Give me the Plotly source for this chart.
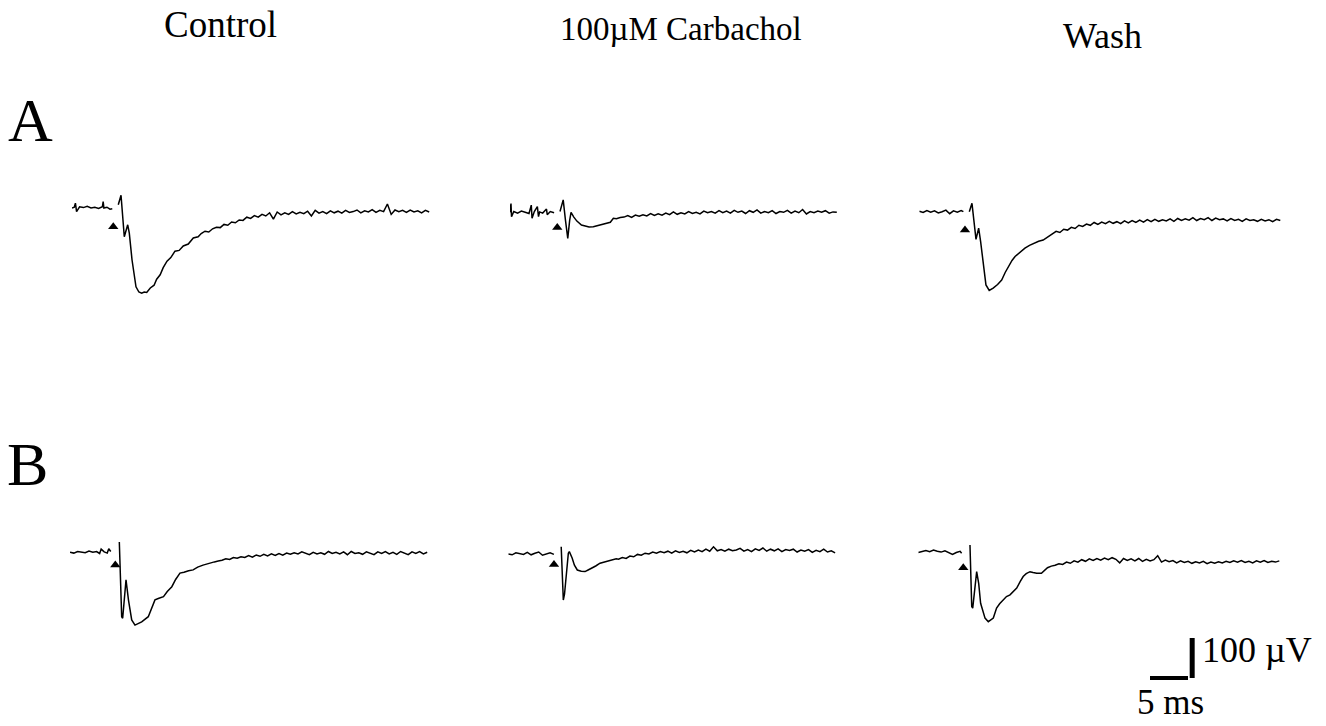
import plotly.graph_objects as go

# ---------------- data (time in ms, potential in µV) ----------------
column_titles = ["Control", "100µM Carbachol", "Wash"]
row_labels = ["A", "B"]
scale_ms = 5
scale_uv = 100
scale_labels = ["100 µV", "5 ms"]

# stimulus markers (time, level) for: Control A, Carbachol A, Wash A, Control B, Carbachol B, Wash B
stim_t = [5.43, 6.22, 6.01, 5.96, 6.01, 5.92]
stim_v = [-47, -38, -46, -32, -26, -40]

# --- Row A, Control ---
ctrl_a_pre_t = [0, 0.3, 0.45, 0.6, 1.0, 1.5, 2.0, 2.5, 3.0, 3.5, 4.0, 4.1, 4.2, 4.6, 5.0, 5.3]
ctrl_a_pre_v = [0, 2, 12, -9, 3, 1, 4, 0, 2, -1, 3, 16, 0, 2, -3, -2]
ctrl_a_t = [6.09, 6.45, 6.88, 7.1, 7.33, 7.54, 7.9, 8.42, 8.8, 9.17, 9.5, 9.83, 10.3, 10.8, 11.14,
            11.6, 12.0, 12.5, 13.0, 13.55, 14.1, 14.64, 15.3, 15.96, 16.6, 17.0,
            17.5, 18.0, 18.5, 19.0, 19.5, 20.0, 20.5, 21.0, 21.5, 22.0, 22.5, 23.0, 23.5, 24.0,
            24.5, 25.0, 25.5, 26.0, 26.5, 27.0, 27.5, 28.0, 28.5, 29.0, 29.5, 30.0, 30.5, 31.0,
            31.5, 32.0, 32.5, 33.0, 33.5, 34.0, 34.5, 35.0, 35.5, 36.0, 36.5, 37.0, 37.5, 38.0,
            38.5, 39.0, 39.5, 40.0, 40.5, 41.0, 41.5, 42.0, 42.5, 43.0, 43.5, 44.0, 44.5, 45.0,
            45.5, 46.0, 46.5, 47.0]
ctrl_a_v = [8, 32, -72, -55, -42, -63, -130, -197, -210, -213, -210, -211, -200, -193, -178,
            -167, -149, -133, -124, -108, -106, -95, -90, -75, -72, -64,
            -58, -60, -52, -48, -49, -41, -43, -35, -37, -30, -31, -23, -26, -19,
            -23, -16, -20, -12, -28, -10, -17, -12, -16, -9, -15, -11, -14, -8,
            -20, -6, -13, -9, -14, -7, -12, -8, -13, -6, -11, -9, -5, -12,
            -7, -10, -4, -11, -6, -9, 10, -16, -5, -9, -6, -11, -5, -10,
            -7, -12, -6, -10]

# --- Row A, Carbachol ---
carb_a_pre_t = [0, 0.13, 0.2, 0.5, 1.0, 1.5, 2.0, 2.5, 2.8, 2.9, 3.2, 3.6, 3.75, 3.9, 4.3, 4.8, 4.9, 5.3, 5.8]
carb_a_pre_v = [0, 22, -11, 2, -2, 3, 0, -3, 18, -15, 2, 14, -11, 1, -2, 8, -6, 2, -1]
carb_a_t = [6.58, 6.8, 7.0, 7.3, 7.6, 7.85, 8.03, 8.4, 8.8, 9.4, 9.9, 10.4, 10.96, 11.5, 12.0,
            12.7, 13.2, 13.6, 14.0, 14.5,
            15.0, 15.5, 16.0, 16.5, 17.0, 17.5, 18.0, 18.5, 19.0, 19.5, 20.0, 20.5, 21.0, 21.5,
            22.0, 22.5, 23.0, 23.5, 24.0, 24.5, 25.0, 25.5, 26.0, 26.5, 27.0, 27.5, 28.0, 28.5,
            29.0, 29.5, 30.0, 30.5, 31.0, 31.5, 32.0, 32.5, 33.0, 33.5, 34.0, 34.5, 35.0, 35.5,
            36.0, 36.5, 37.0, 37.5, 38.0, 38.5, 39.0, 39.5, 40.0, 40.5, 41.0, 41.5, 42.0, 42.5, 43.0]
carb_a_v = [2, 20, 31, -20, -65, -20, 0, -12, -22, -32, -35, -37, -36, -33, -31,
            -28, -25, -15, -16, -13,
            -12, -8, -13, -7, -10, -6, -9, -3, -8, -4, -7, -2, -6, 1,
            -5, -1, -4, 2, -3, 0, -4, 3, -1, 2, -2, 4, -1, 3,
            -2, 5, 0, 3, -3, 4, 0, 6, -2, 2, -1, 4, -3, 2,
            0, 5, -2, 3, -1, 7, -4, 2, -1, 3, 0, 4, -2, 1, 0]

# --- Row A, Wash ---
wash_a_pre_t = [0, 0.5, 1.0, 1.5, 2.0, 2.5, 3.0, 3.5, 4.0, 4.5, 5.0, 5.5, 5.8]
wash_a_pre_v = [1, -2, 3, -1, 2, -3, 0, 4, -5, 2, -1, 3, 0]
wash_a_t = [6.58, 6.93, 7.46, 7.81, 8.07, 8.4, 8.77, 9.2, 9.72, 10.3, 10.84, 11.3, 11.7, 12.2,
            12.6, 13.3, 13.9, 14.5, 15.0, 15.7, 16.3, 17.0,
            17.5, 18.0, 18.5, 19.0, 19.5, 20.0, 20.5, 21.0, 21.5, 22.0, 22.5, 23.0, 23.5, 24.0,
            24.5, 25.0, 25.5, 26.0, 26.5, 27.0, 27.5, 28.0, 28.5, 29.0, 29.5, 30.0, 30.5, 31.0,
            31.5, 32.0, 32.5, 33.0, 33.5, 34.0, 34.5, 35.0, 35.5, 36.0, 36.5, 37.0, 37.5, 38.0,
            38.5, 39.0, 39.5, 40.0, 40.5, 41.0, 41.5, 42.0, 42.5, 43.0, 43.5, 44.0, 44.5, 45.0,
            45.5, 46.0, 46.5, 47.0, 47.5]
wash_a_v = [0, 21, -69, -41, -75, -130, -183, -197, -191, -182, -171, -152, -137, -122,
            -112, -100, -91, -84, -79, -74, -71, -62,
            -55, -49, -52, -44, -46, -39, -42, -34, -37, -31, -34, -27, -32, -26,
            -30, -24, -29, -25, -30, -23, -28, -22, -27, -21, -26, -20, -25, -19,
            -24, -20, -23, -18, -24, -17, -22, -18, -21, -15, -22, -17, -20, -15,
            -22, -16, -20, -18, -23, -17, -22, -19, -24, -18, -22, -20, -24, -19,
            -23, -20, -25, -19, -22]

# --- Row B, Control ---
ctrl_b_pre_t = [0, 0.5, 1.0, 1.5, 2.0, 2.5, 3.0, 3.5, 3.9, 4.1, 4.5, 4.9, 5.1, 5.36]
ctrl_b_pre_v = [0, -2, 2, 1, -1, 3, 0, 2, -3, 8, 1, -2, 9, 2]
ctrl_b_t = [6.49, 6.8, 6.93, 7.15, 7.37, 7.7, 8.12, 8.55, 9.0, 9.43, 10.3, 10.7, 11.18, 11.7,
            12.3, 12.8, 13.4, 13.9, 14.47, 15.0, 15.6, 16.2, 16.8, 17.5,
            18.0, 18.5, 19.0, 19.5, 20.0, 20.5, 21.0, 21.5, 22.0, 22.5, 23.0, 23.5, 24.0, 24.5,
            25.0, 25.5, 26.0, 26.5, 27.0, 27.5, 28.0, 28.5, 29.0, 29.5, 30.0, 30.5, 31.0, 31.5,
            32.0, 32.5, 33.0, 33.5, 34.0, 34.5, 35.0, 35.5, 36.0, 36.5, 37.0, 37.5, 38.0, 38.5,
            39.0, 39.5, 40.0, 40.5, 41.0, 41.5, 42.0, 42.5, 43.0, 43.5, 44.0, 44.5, 45.0, 45.5,
            46.0, 46.5, 47.0]
ctrl_b_v = [26, -161, -165, -110, -69, -120, -169, -182, -178, -174, -161, -140, -119, -115,
            -111, -98, -86, -68, -52, -50, -46, -44, -37, -32,
            -29, -27, -24, -22, -20, -16, -18, -13, -15, -11, -13, -8, -12, -7,
            -10, -5, -9, -4, -8, -3, -7, -2, -5, -1, -4, 1, -3, -6,
            0, -4, -1, -5, 2, -3, 0, -4, 1, -6, 2, -3, -1, -5,
            1, -2, -6, 1, -3, 2, -4, 0, -5, 2, -2, -6, 1, -3,
            2, -4, 0]

# --- Row B, Carbachol ---
carb_b_pre_t = [0, 0.5, 1.0, 1.5, 2.0, 2.5, 3.0, 3.5, 4.0, 4.5, 5.0, 5.5, 6.0]
carb_b_pre_v = [0, -2, 3, 1, -1, 4, -2, 2, 5, -3, 1, 3, -1]
carb_b_t = [6.96, 7.24, 7.4, 7.65, 7.9, 8.03, 8.4, 8.7, 9.08, 9.6, 10.1, 10.5, 10.96, 11.5,
            12.07, 12.6, 13.2, 13.8, 14.2,
            14.5, 15.0, 15.5, 16.0, 16.5, 17.0, 17.5, 18.0, 18.5, 19.0, 19.5, 20.0, 20.5, 21.0,
            21.5, 22.0, 22.5, 23.0, 23.5, 24.0, 24.5, 25.0, 25.5, 26.0, 26.5, 27.0, 27.5, 28.0,
            28.5, 29.0, 29.5, 30.0, 30.5, 31.0, 31.5, 32.0, 32.5, 33.0, 33.5, 34.0, 34.5, 35.0,
            35.5, 36.0, 36.5, 37.0, 37.5, 38.0, 38.5, 39.0, 39.5, 40.0, 40.5, 41.0, 41.5, 42.0,
            42.5, 43.0]
carb_b_v = [18, -115, -100, -40, 2, 6, -10, -28, -40, -43, -44, -40, -36, -30,
            -23, -20, -17, -15, -12,
            -13, -9, -11, -5, -7, -1, -3, 2, 0, 5, 2, 6, 3, 7,
            2, 8, 4, 7, 3, 9, 5, 10, 6, 12, 7, 18, 8, 11,
            7, 12, 8, 10, 14, 7, 11, 6, 13, 9, 15, 7, 12, 8,
            13, 6, 11, 9, 12, 5, 10, 7, 11, 4, 9, 6, 12, 5,
            8, 3]

# --- Row B, Wash ---
wash_b_pre_t = [0, 0.5, 1.0, 1.5, 2.0, 2.5, 3.0, 3.5, 4.0, 4.5, 5.0, 5.5, 5.7]
wash_b_pre_v = [-2, 1, 3, 0, 4, 1, -1, 2, -3, -7, -2, 1, -4]
wash_b_t = [6.8, 7.03, 7.16, 7.4, 7.68, 7.95, 8.2, 8.78, 9.21, 9.87, 10.3, 10.7, 11.18, 11.6,
            12.07, 12.5, 12.95, 13.4, 13.8, 14.2, 14.7, 15.1, 15.58, 16.2, 16.6,
            17.0, 17.5, 18.0, 18.5, 19.0, 19.5, 20.0, 20.5, 21.0, 21.5, 22.0, 22.5, 23.0, 23.5,
            24.0, 24.5, 25.0, 25.5, 26.0, 26.5, 27.0, 27.5, 28.0, 28.5, 29.0, 29.5, 30.0, 30.5,
            31.0, 31.5, 32.0, 32.5, 33.0, 33.5, 34.0, 34.5, 35.0, 35.5, 36.0, 36.5, 37.0, 37.5,
            38.0, 38.5, 39.0, 39.5, 40.0, 40.5, 41.0, 41.5, 42.0, 42.5, 43.0, 43.5, 44.0, 44.5,
            45.0, 45.5, 46.0, 46.5, 47.0, 47.5]
wash_b_v = [17, -137, -141, -95, -50, -80, -129, -166, -175, -166, -141, -130, -121, -112,
            -108, -100, -91, -75, -62, -55, -50, -52, -54, -54, -47,
            -40, -36, -34, -30, -32, -26, -29, -23, -26, -20, -24, -18, -22, -17,
            -21, -16, -20, -15, -19, -28, -17, -22, -18, -23, -17, -24, -19, -23,
            -20, -10, -26, -21, -25, -22, -28, -23, -27, -24, -29, -25, -28, -24,
            -30, -26, -29, -25, -28, -24, -27, -23, -26, -22, -27, -24, -28, -23,
            -26, -22, -27, -24, -26, -23]

# ---------------- layout (pixel geometry of the page) ----------------
FIG_W, FIG_H = 1326, 726
PX_PER_MS = 38 / scale_ms      # 5 ms bar is ~38 px long
PX_PER_UV = 40 / scale_uv      # 100 µV bar is ~40 px tall
PANEL_W = 380                  # px
PANEL_UP, PANEL_DOWN = 80, 120 # px above / below each trace baseline

# (left pixel of t=0, baseline pixel row) per panel
panel_pos = [(72, 208.0), (510, 212.3), (919.3, 211.7),
             (70, 552.3), (508.3, 554.0), (918.3, 551.7)]

traces = [
    (ctrl_a_pre_t, ctrl_a_pre_v, ctrl_a_t, ctrl_a_v),
    (carb_a_pre_t, carb_a_pre_v, carb_a_t, carb_a_v),
    (wash_a_pre_t, wash_a_pre_v, wash_a_t, wash_a_v),
    (ctrl_b_pre_t, ctrl_b_pre_v, ctrl_b_t, ctrl_b_v),
    (carb_b_pre_t, carb_b_pre_v, carb_b_t, carb_b_v),
    (wash_b_pre_t, wash_b_pre_v, wash_b_t, wash_b_v),
]

fig = go.Figure()
layout_axes = {}

def ax_names(i):
    return ("x" if i == 1 else f"x{i}", "y" if i == 1 else f"y{i}",
            "xaxis" if i == 1 else f"xaxis{i}", "yaxis" if i == 1 else f"yaxis{i}")

for k, ((pt, pv, t, v), (x0, base)) in enumerate(zip(traces, panel_pos)):
    i = k + 1
    xr, yr, xa, ya = ax_names(i)
    fig.add_trace(go.Scatter(x=pt + [None] + t, y=pv + [None] + v, mode="lines",
                             line=dict(color="black", width=1.5), xaxis=xr, yaxis=yr,
                             hoverinfo="skip", showlegend=False))
    fig.add_trace(go.Scatter(x=[stim_t[k]], y=[stim_v[k]], mode="markers",
                             marker=dict(symbol="triangle-up", size=9, color="black"),
                             xaxis=xr, yaxis=yr, hoverinfo="skip", showlegend=False))
    layout_axes[xa] = dict(domain=[x0 / FIG_W, (x0 + PANEL_W) / FIG_W],
                           range=[0, PANEL_W / PX_PER_MS], visible=False, anchor=yr)
    layout_axes[ya] = dict(domain=[1 - (base + PANEL_DOWN) / FIG_H, 1 - (base - PANEL_UP) / FIG_H],
                           range=[-PANEL_DOWN / PX_PER_UV, PANEL_UP / PX_PER_UV],
                           visible=False, anchor=xr)

# scale bar axis
SB_X0, SB_W = 1150, 60
SB_BASE, SB_UP, SB_DOWN = 678, 58, 12
i = 7
xr, yr, xa, ya = ax_names(i)
fig.add_trace(go.Scatter(x=[0, scale_ms], y=[0, 0], mode="lines",
                         line=dict(color="black", width=4), xaxis=xr, yaxis=yr,
                         hoverinfo="skip", showlegend=False))
fig.add_trace(go.Scatter(x=[scale_ms + 0.55, scale_ms + 0.55], y=[0, scale_uv], mode="lines",
                         line=dict(color="black", width=5), xaxis=xr, yaxis=yr,
                         hoverinfo="skip", showlegend=False))
layout_axes[xa] = dict(domain=[SB_X0 / FIG_W, (SB_X0 + SB_W) / FIG_W],
                       range=[0, SB_W / PX_PER_MS], visible=False, anchor=yr)
layout_axes[ya] = dict(domain=[1 - (SB_BASE + SB_DOWN) / FIG_H, 1 - (SB_BASE - SB_UP) / FIG_H],
                       range=[-SB_DOWN / PX_PER_UV, SB_UP / PX_PER_UV], visible=False, anchor=xr)

FONT = "Liberation Serif"

def ann(text, x, y, size, xanchor="center"):
    return dict(text=text, x=x / FIG_W, y=1 - y / FIG_H, xref="paper", yref="paper",
                xanchor=xanchor, yanchor="middle", showarrow=False,
                font=dict(family=FONT, size=size, color="black"))

annotations = [
    ann(column_titles[0], 220, 25, 37),
    ann(column_titles[1], 681, 29, 33),
    ann(column_titles[2], 1102, 36, 36),
    ann(row_labels[0], 30, 120, 62),
    ann(row_labels[1], 27, 464, 62),
    ann(scale_labels[0], 1200, 650, 36, xanchor="left"),
    ann(scale_labels[1], 1170, 702, 35),
]

fig.update_layout(width=FIG_W, height=FIG_H, margin=dict(l=0, r=0, t=0, b=0),
                  paper_bgcolor="white", plot_bgcolor="white",
                  annotations=annotations, showlegend=False, **layout_axes)

fig.write_html("out.html", config={"displayModeBar": False},
               post_script="document.body.style.margin='0px';document.body.style.overflow='hidden';")
